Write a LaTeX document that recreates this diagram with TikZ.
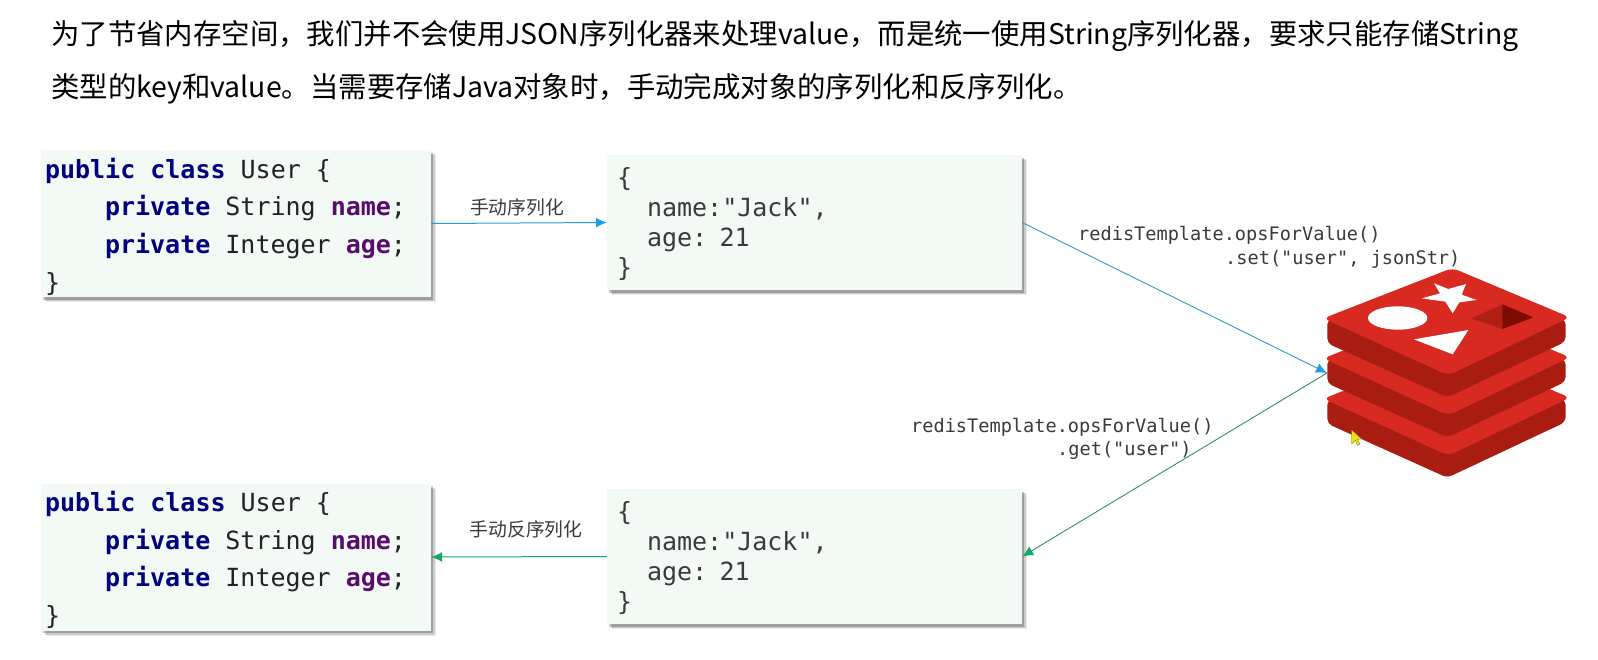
\documentclass[tikz,border=0pt]{standalone}
\usepackage{fontspec}
\usetikzlibrary{arrows.meta}
\newfontfamily\cjk{Noto Sans CJK SC}
\newfontfamily\monof{DejaVu Sans Mono}
\definecolor{boxbg}{HTML}{F3F9F4}
\definecolor{kw}{HTML}{000080}
\definecolor{fld}{HTML}{5A0C6E}
\definecolor{txt}{HTML}{222222}
\definecolor{soft}{HTML}{3A3A3A}
\definecolor{arrblue}{HTML}{1BA1E2}
\definecolor{arrgreen}{HTML}{12A866}
\definecolor{linkblue}{HTML}{2E9CC0}
\definecolor{linkgreen}{HTML}{2F8F78}
\definecolor{rface}{HTML}{D92A22}
\definecolor{rside}{HTML}{A81C12}
\definecolor{rpit}{HTML}{B01F14}
\definecolor{rdeep}{HTML}{7E0B00}
\newcommand{\K}[1]{\textcolor{kw}{\bfseries #1}}
\newcommand{\F}[1]{\textcolor{fld}{\bfseries #1}}
\newcommand{\msp}{\hspace*{15.05pt}}
\tikzset{
  shadowed/.style={
    preaction={fill=black,opacity=.07,transform canvas={xshift=5pt,yshift=-5pt}},
    preaction={fill=black,opacity=.14,transform canvas={xshift=3.5pt,yshift=-4pt}},
    preaction={fill=black,opacity=.22,transform canvas={xshift=2pt,yshift=-2.5pt}},
    fill=boxbg},
  javabox/.style={shadowed,inner sep=0pt,minimum height=147pt,minimum width=390pt},
  jsonbox/.style={shadowed,inner sep=0pt,minimum height=135pt,minimum width=415pt},
  javatext/.style={inner ysep=0pt,inner xsep=4pt,text width=382pt,align=left,
    font=\monof\fontsize{25}{37.7}\selectfont,text=txt},
  jsontext/.style={inner ysep=0pt,inner xsep=10pt,text width=395pt,align=left,
    font=\monof\fontsize{25}{30}\selectfont,text=soft},
  monolabel/.style={font=\monof\fontsize{18.6}{24}\selectfont,text=soft,align=left,inner sep=0pt},
  cnlabel/.style={font=\cjk\fontsize{18.8}{22}\selectfont,text=soft,inner sep=0pt},
  headline/.style={font=\cjk\fontsize{28.4}{34}\selectfont,text=black,inner sep=0pt,anchor=west},
  bluearrow/.style={draw=arrblue,line width=1pt,-{Latex[length=11pt,width=10pt,color=arrblue]}},
  greenarrow/.style={draw=arrgreen,line width=1pt,-{Latex[length=11pt,width=10pt,color=arrgreen]}},
  bluelink/.style={draw=linkblue,line width=.9pt,-{Latex[length=11pt,width=10pt,color=arrblue]}},
  greenlink/.style={draw=linkgreen,line width=.9pt,-{Latex[length=11pt,width=10pt,color=arrgreen]}},
}
\newcommand{\javacode}{\K{public}\msp\K{class}\msp User\msp\{\\\hspace*{60pt}\K{private}\msp String\msp\F{name};\\\hspace*{60pt}\K{private}\msp Integer\msp\F{age};\\\}}
\newcommand{\jsoncode}{\{\\\hspace*{30pt}name:"Jack",\\\hspace*{30pt}age: 21\\\}}
\begin{document}
\begin{tikzpicture}[x=1pt,y=-1pt]
\useasboundingbox (0,0) rectangle (1598,659);
\fill[white] (0,0) rectangle (1598,659);

\node[headline] (line1) at (51,36) {为了节省内存空间，我们并不会使用JSON序列化器来处理value，而是统一使用String序列化器，要求只能存储String};
\node[headline] (line2) at (51,89) {类型的key和value。当需要存储Java对象时，手动完成对象的序列化和反序列化。};

\node[javabox] (javaTop) at (236,223.5) {};
\node[javabox] (javaBottom) at (236,557) {};
\node[jsonbox] (jsonTop) at (814.5,222.5) {};
\node[jsonbox] (jsonBottom) at (814.5,556.5) {};
\node[javatext] (javaTopCode) at ([yshift=-3pt]javaTop.center) {\javacode};
\node[javatext] (javaBottomCode) at ([yshift=-3pt]javaBottom.center) {\javacode};
\node[jsontext] (jsonTopCode) at ([yshift=-2pt]jsonTop.center) {\jsoncode};
\node[jsontext] (jsonBottomCode) at ([yshift=-2pt]jsonBottom.center) {\jsoncode};

\begin{scope}[shift={(1300,260)},x=0.33333pt,y=-0.33333pt]
  \foreach \dy in {241,120,0}{
    \fill[rside,rounded corners=5pt] (82,178+\dy) -- (82,250+\dy) -- (442,412+\dy) -- (797,245+\dy) -- (797,178+\dy) -- cycle;
    \fill[rface,rounded corners=6.5pt] (70,175+\dy) -- (457,24+\dy) -- (810,172+\dy) -- (445,346+\dy) -- cycle;
  }
  \fill[white] (293,174) ellipse [x radius=89,y radius=35];
  \fill[white] (402,70) -- (445,87) -- (498,72) -- (485,104) -- (530,120) -- (478,127) -- (458,160) -- (436,125) -- (365,115) -- (420,100) -- cycle;
  \fill[white] (342,238) -- (505,210) -- (458,283) -- cycle;
  \fill[rpit] (515,175) -- (607,133) -- (607,207) -- cycle;
  \fill[rdeep] (607,133) -- (700,172) -- (607,207) -- cycle;
  \filldraw[fill=yellow!85!olive,draw=black!60,line width=.3pt] (155,510) -- (155,552) -- (166,541) -- (172,556) -- (180,552) -- (172,538) -- (185,537) -- cycle;
\end{scope}
\coordinate (redisIn) at (1327,373);

\draw[bluearrow] (javaTop.east) -- (jsonTop.west);
\draw[greenarrow] (jsonBottom.west) -- (javaBottom.east);
\draw[bluelink] (jsonTop.east) -- (redisIn);
\draw[greenlink] (redisIn) -- (jsonBottom.east);

\node[cnlabel] (ser) at (517,207) {手动序列化};
\node[cnlabel] (deser) at (526,529) {手动反序列化};

\node[monolabel,anchor=west] (setA) at (1078,235) {redisTemplate.opsForValue()};
\node[monolabel,anchor=west] (setB) at (1225,259) {.set("user", jsonStr)};
\node[monolabel,anchor=west] (getA) at (911,427) {redisTemplate.opsForValue()};
\node[monolabel,anchor=west] (getB) at (1057,450) {.get("user")};
\end{tikzpicture}
\end{document}
